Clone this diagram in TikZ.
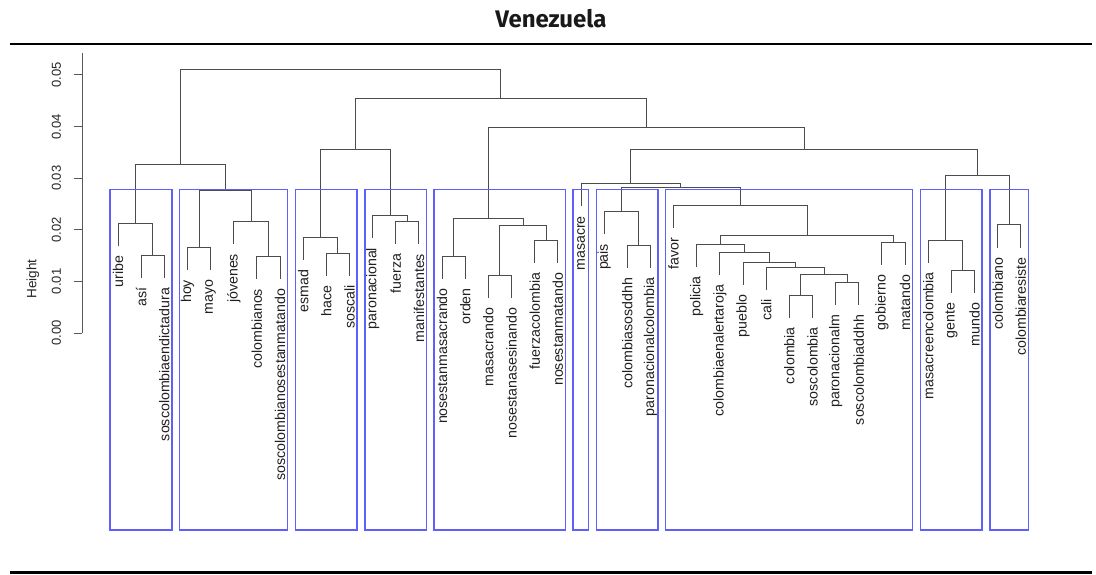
\documentclass[tikz,border=0pt]{standalone}
\usepackage{fontspec}
\newfontfamily\labfont{Liberation Sans}
\newfontfamily\titlefont{Fira Sans}
\begin{document}
\begin{tikzpicture}[x=1pt,y=-1pt,
  dend/.style={line width=1pt, draw=black!70},
  clbox/.style={line width=1.5pt, draw={rgb,255:red,95;green,95;blue,250}},
  leaf/.style={rotate=90, anchor=east, inner sep=0pt, font=\labfont\fontsize{14.2}{14.2}\selectfont, text=black!88},
  ticklab/.style={rotate=90, inner sep=0pt, font=\labfont\fontsize{13}{13}\selectfont, text=black!85},
  rulebar/.style={line width=2.6pt, draw=black}]
\useasboundingbox (0,0) rectangle (1096,575);
% title and rules
\node[font=\titlefont\bfseries\fontsize{24}{24}\selectfont, text=black!90] (title) at (551,19) {Venezuela};
\draw[rulebar] (10,44) -- (1092,44);
\draw[rulebar] (10,572.5) -- (1092,572.5);
% axis
\draw[dend, draw=black!65] (82,53) -- (82,333);
\foreach \v/\yy in {0.00/333,0.01/281.4,0.02/229.8,0.03/178.2,0.04/126.6,0.05/75}{
  \draw[dend, draw=black!65] (74,\yy) -- (82,\yy);
  \node[ticklab] at (56.5,\yy) {\v};
}
\node[ticklab, font=\labfont\fontsize{13.5}{13.5}\selectfont] (ylab) at (33,279) {Height};
% leaves
\foreach \i/\x/\py/\t in {
 1/118/223.3/uribe, 2/141.15/255.7/así, 3/164.3/255.7/soscolombiaendictadura,
 4/187.45/247.7/hoy, 5/210.6/247.7/mayo, 6/233.75/221.7/jóvenes,
 7/256.9/256.7/colombianos, 8/280.05/256.7/soscolombianosestanmatando,
 9/303.2/237.7/esmad, 10/326.35/253.3/hace, 11/349.5/253.3/soscali,
 12/372.65/215.7/paronacional, 13/395.8/221.7/fuerza, 14/418.95/221.7/manifestantes,
 15/442.1/256/nosestanmasacrando, 16/465.25/256/orden, 17/488.4/275.7/masacrando,
 18/511.55/275.7/nosestanasesinando, 19/534.7/240.7/fuerzacolombia, 20/557.85/240.7/nosestanmatando,
 21/581/184/masacre, 22/604.15/211.7/pais, 23/627.3/245.7/colombiasosddhh,
 24/650.45/245.7/paronacionalcolombia, 25/673.6/206/favor, 26/696.75/244.3/policia,
 27/719.9/252.3/colombiaenalertaroja, 28/743.05/262.3/pueblo, 29/766.2/267.3/cali,
 30/789.35/295/colombia, 31/812.5/295/soscolombia, 32/835.65/282.3/paronacionalm,
 33/858.8/282.3/soscolombiaddhh, 34/881.95/242.7/gobierno, 35/905.1/242.7/matando,
 36/928.25/240/masacreencolombia, 37/951.4/270.7/gente, 38/974.55/270.7/mundo,
 39/997.7/225/colombiano, 40/1020.85/225/colombiaresiste}{
  \coordinate (t\i) at (\x,\py+22.5);
  \node[leaf] (n\i) at (\x,\py+32) {\t};
}
% internal merges
\coordinate (a1) at (152.73,255.7);
\coordinate (a2) at (135.36,223.3);
\coordinate (b1) at (199.03,247.7);
\coordinate (b2) at (268.48,256.7);
\coordinate (b3) at (251.11,221.7);
\coordinate (b4) at (225.07,190.7);
\coordinate (c12) at (180.2,164.5);
\coordinate (d1) at (337.93,253.3);
\coordinate (d2) at (320.56,237.7);
\coordinate (e1) at (407.38,221.7);
\coordinate (e2) at (390.0,215.7);
\coordinate (de) at (355.3,149.3);
\coordinate (f1) at (453.68,256);
\coordinate (f2) at (499.98,275.7);
\coordinate (f3) at (546.28,240.7);
\coordinate (f4) at (523.13,225.3);
\coordinate (f5) at (488.4,218.3);
\coordinate (g1) at (638.88,245.7);
\coordinate (g2) at (621.5,211.7);
\coordinate (hcs) at (800.93,295);
\coordinate (hps) at (847.23,282.3);
\coordinate (h3) at (824.08,274);
\coordinate (h4) at (795.14,267.3);
\coordinate (h5) at (769.1,262.3);
\coordinate (h6) at (744.5,252.3);
\coordinate (h7) at (720.6,244.3);
\coordinate (h8) at (893.53,242.7);
\coordinate (h9) at (807.1,235);
\coordinate (h10) at (740.35,206);
\coordinate (N) at (680.9,187.5);
\coordinate (M) at (630.95,184);
\coordinate (k1) at (962.98,270.7);
\coordinate (k9) at (945.6,240);
\coordinate (k10) at (1009.28,225);
\coordinate (k) at (977.44,176);
\coordinate (L4) at (804.2,149.3);
\coordinate (L3) at (646.3,127.7);
\coordinate (L2) at (500.8,99);
\coordinate (root) at (340.5,70);
% dendrogram edges
\foreach \p/\c in {a1/t2,a1/t3,a2/t1,a2/a1,b1/t4,b1/t5,b2/t7,b2/t8,b3/t6,b3/b2,b4/b1,b4/b3,
  c12/a2,c12/b4,d1/t10,d1/t11,d2/t9,d2/d1,e1/t13,e1/t14,e2/t12,e2/e1,de/d2,de/e2,
  f1/t15,f1/t16,f2/t17,f2/t18,f3/t19,f3/t20,f4/f2,f4/f3,f5/f1,f5/f4,
  g1/t23,g1/t24,g2/t22,g2/g1,hcs/t30,hcs/t31,hps/t32,hps/t33,h3/hcs,h3/hps,
  h4/t29,h4/h3,h5/t28,h5/h4,h6/t27,h6/h5,h7/t26,h7/h6,h8/t34,h8/t35,h9/h7,h9/h8,
  h10/t25,h10/h9,N/g2,N/h10,M/t21,M/N,k1/t37,k1/t38,k9/t36,k9/k1,k10/t39,k10/t40,
  k/k9,k/k10,L4/M,L4/k,L3/f5,L3/L4,L2/de,L2/L3,root/c12,root/L2}{
  \draw[dend] (\p) -| (\c);
}
% cluster rectangles
\foreach \l/\r in {110.13/171.94,179.58/287.69,295.33/357.14,364.78/426.59,434.23/565.49,
  573.13/588.64,596.28/658.09,665.73/912.74,920.38/982.19,989.83/1028.49}{
  \draw[clbox] (\l,189.3) rectangle (\r,530);
}
\end{tikzpicture}
\end{document}
